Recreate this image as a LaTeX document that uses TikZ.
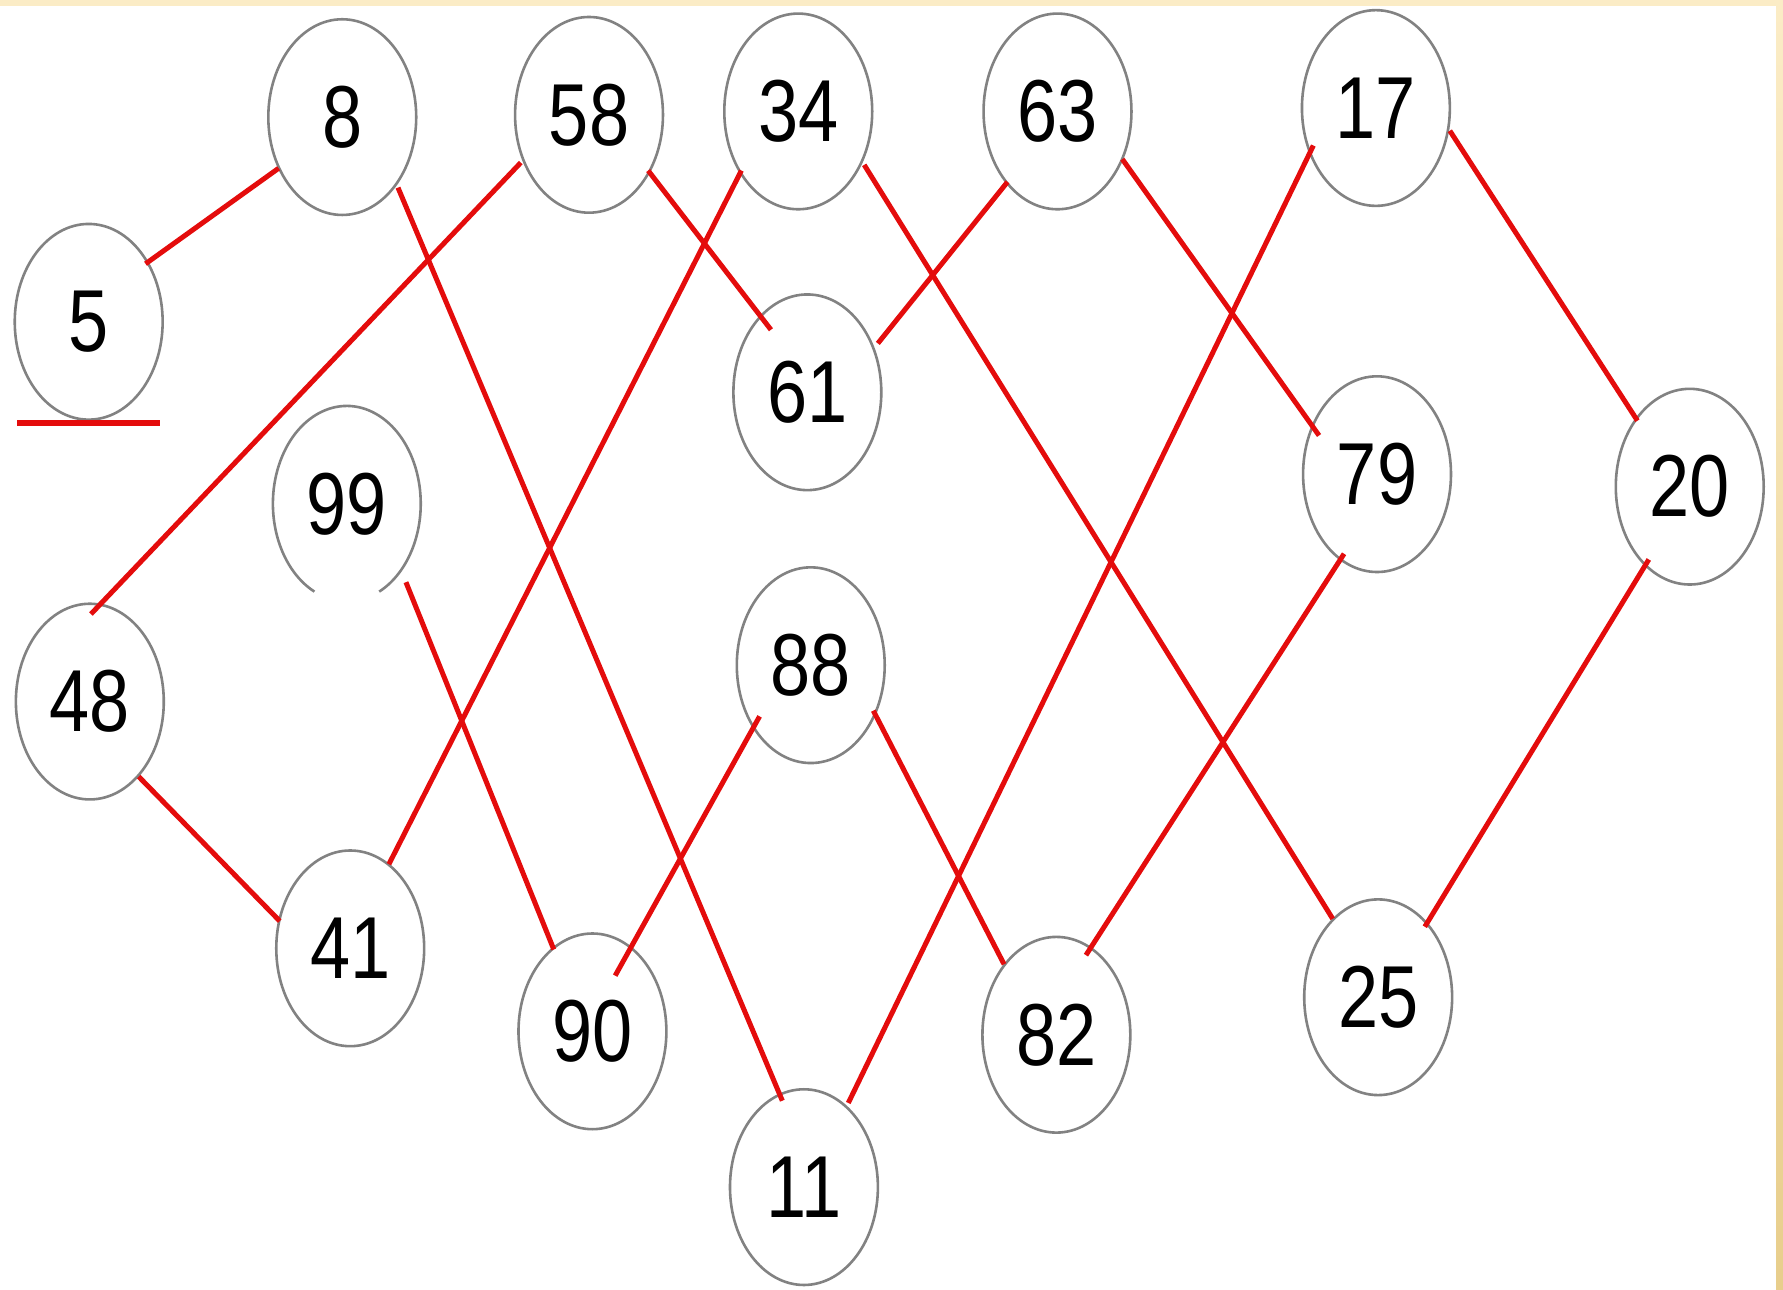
\documentclass[tikz,border=0pt]{standalone}
\usepackage{fontspec}
\setmainfont{Liberation Sans}
\usetikzlibrary{shapes.geometric}
\definecolor{edgered}{RGB}{228,12,12}
\definecolor{ringgray}{RGB}{130,130,130}
\definecolor{creamtop}{RGB}{251,236,198}
\definecolor{creambot}{RGB}{232,206,140}
\newcommand\numtxt[1]{\scalebox{0.82}[1]{#1}}
\begin{document}
\begin{tikzpicture}[x=0.01cm,y=-0.01cm,
  numnode/.style={ellipse, draw=ringgray, line width=0.65pt, minimum width=1.30cm, minimum height=1.72cm, inner sep=0pt, font=\fontsize{22}{26}\selectfont},
  link/.style={draw=edgered, line width=1.25pt},
  ring/.style={draw=ringgray, line width=0.65pt}]
\useasboundingbox (0,0) rectangle (1568,1134);
\shade[top color=creamtop, bottom color=creambot] (0,0) rectangle (1568,1134);
\fill[white] (-3,5.3) rectangle (1562,1138);

\node[numnode] (n5)  at (78,283)   {\numtxt{5}};
\node[numnode] (n8)  at (301,103)  {\numtxt{8}};
\node[numnode] (n58) at (518,101)  {\numtxt{58}};
\node[numnode] (n34) at (702,98)   {\numtxt{34}};
\node[numnode] (n63) at (930,98)   {\numtxt{63}};
\node[numnode] (n17) at (1210,95)  {\numtxt{17}};
\node[numnode] (n61) at (710,345)  {\numtxt{61}};
\node[numnode, draw=none] (n99) at (305,443) {\numtxt{99}};
\node[numnode] (n79) at (1211,417) {\numtxt{79}};
\node[numnode] (n20) at (1486,428) {\numtxt{20}};
\node[numnode] (n48) at (79,617)   {\numtxt{48}};
\node[numnode] (n88) at (713,585)  {\numtxt{88}};
\node[numnode] (n41) at (308,834)  {\numtxt{41}};
\node[numnode] (n90) at (521,907)  {\numtxt{90}};
\node[numnode] (n82) at (929,910)  {\numtxt{82}};
\node[numnode] (n25) at (1212,877) {\numtxt{25}};
\node[numnode] (n11) at (707,1044) {\numtxt{11}};

\draw[ring] ([shift={(116:65 and 86)}]n99.center) arc[start angle=116, end angle=424, x radius=65, y radius=86];

\coordinate (ulA) at (15,372);
\coordinate (ulB) at (141,372);
\draw[link, line width=1.3pt] (ulA) -- (ulB);

\draw[link] ([shift={(50,-51)}]n5.center) -- ([shift={(-56,45)}]n8.center);
\draw[link] ([shift={(49,62)}]n8.center) -- ([shift={(-19,-76)}]n11.center);
\draw[link] ([shift={(-60,42)}]n58.center) -- ([shift={(1,-77)}]n48.center);
\draw[link] ([shift={(52,49)}]n58.center) -- ([shift={(-32,-55)}]n61.center);
\draw[link] ([shift={(-50,52)}]n34.center) -- ([shift={(34,-74)}]n41.center);
\draw[link] ([shift={(58,47)}]n34.center) -- ([shift={(-40,-69)}]n25.center);
\draw[link] ([shift={(-44,62)}]n63.center) -- ([shift={(62,-43)}]n61.center);
\draw[link] ([shift={(57,42)}]n63.center) -- ([shift={(-51,-34)}]n79.center);
\draw[link] ([shift={(-55,33)}]n17.center) -- ([shift={(39,-74)}]n11.center);
\draw[link] ([shift={(65,20)}]n17.center) -- ([shift={(-46,-58)}]n20.center);
\draw[link] ([shift={(52,69)}]n99.center) -- ([shift={(-34,-72)}]n90.center);
\draw[link] ([shift={(43,66)}]n48.center) -- ([shift={(-62,-24)}]n41.center);
\draw[link] ([shift={(-45,45)}]n88.center) -- ([shift={(20,-49)}]n90.center);
\draw[link] ([shift={(55,40)}]n88.center) -- ([shift={(-46,-62)}]n82.center);
\draw[link] ([shift={(-29,70)}]n79.center) -- ([shift={(26,-70)}]n82.center);
\draw[link] ([shift={(-36,64)}]n20.center) -- ([shift={(41,-62)}]n25.center);
\end{tikzpicture}
\end{document}
